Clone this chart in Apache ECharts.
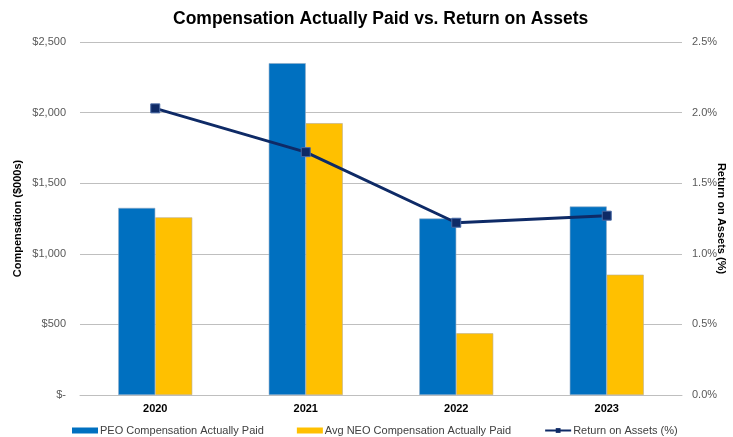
<!DOCTYPE html>
<html>
<head>
<meta charset="utf-8">
<script src="https://cdn.jsdelivr.net/npm/echarts@6/dist/echarts.min.js"></script>
<style>
  html, body { margin: 0; padding: 0; background: #fff; }
  #chart { width: 733px; height: 437px; }
</style>
</head>
<body>
<div id="chart"></div>
<script>
// values
const years = ['2020', '2021', '2022', '2023']
const peoPaid = [1325, 2350, 1250, 1335]      // $000s
const neoPaid = [1258, 1925, 437, 852]        // $000s
const roa = [2.03, 1.72, 1.22, 1.27]          // %
const leftTicks = ['$-', '$500', '$1,000', '$1,500', '$2,000', '$2,500']
const rightTicks = ['0.0%', '0.5%', '1.0%', '1.5%', '2.0%', '2.5%']

const font = 'Liberation Sans, Arial, sans-serif'

const myChart = echarts.init(document.getElementById('chart'))
myChart.setOption({
  animation: false,
  textStyle: { fontFamily: font },
  title: {
    text: 'Compensation Actually Paid vs. Return on Assets',
    left: 168,
    top: 5,
    textStyle: { fontSize: 17.5, fontWeight: 'bold', color: '#000', fontFamily: font }
  },
  grid: {
    left: 80,
    right: 51,
    top: 42,
    bottom: 42,
    outerBoundsMode: 'none'
  },
  legend: {
    left: 67,
    top: 420,
    itemWidth: 26,
    itemHeight: 6,
    itemGap: 33,
    itemStyle: { borderWidth: 0 },
    textStyle: { fontSize: 11, color: '#404040', padding: [0, 0, 0, -3] },
    data: [
      { name: 'PEO Compensation Actually Paid', icon: 'rect' },
      { name: 'Avg NEO Compensation Actually Paid', icon: 'rect' },
      { name: 'Return on Assets (%)' }
    ]
  },
  xAxis: {
    type: 'category',
    data: years,
    axisTick: { show: false },
    axisLine: { lineStyle: { color: '#bfbfbf', width: 1 } },
    axisLabel: { fontSize: 11, fontWeight: 'bold', color: '#000', margin: 8 }
  },
  yAxis: [
    {
      type: 'value',
      min: 0,
      max: 2500,
      interval: 500,
      name: 'Compensation ($000s)',
      nameLocation: 'middle',
      nameGap: 57,
      nameMoveOverlap: false,
      nameTextStyle: { fontSize: 11, fontWeight: 'bold', color: '#000' },
      axisLabel: {
        fontSize: 11,
        color: '#595959',
        margin: 14,
        formatter: v => leftTicks[Math.round(v / 500)]
      },
      axisLine: { show: false },
      axisTick: { show: false },
      splitLine: { lineStyle: { color: '#bfbfbf', width: 1 } }
    },
    {
      type: 'value',
      min: 0,
      max: 2.5,
      interval: 0.5,
      name: 'Return on Assets (%)',
      nameLocation: 'middle',
      nameRotate: -90,
      nameGap: 34,
      nameMoveOverlap: false,
      nameTextStyle: { fontSize: 11, fontWeight: 'bold', color: '#000' },
      axisLabel: {
        fontSize: 11,
        color: '#595959',
        margin: 10,
        formatter: v => rightTicks[Math.round(v / 0.5)]
      },
      axisLine: { show: false },
      axisTick: { show: false },
      splitLine: { show: false }
    }
  ],
  series: [
    {
      name: 'PEO Compensation Actually Paid',
      type: 'bar',
      data: peoPaid,
      barWidth: 37,
      barGap: '0%',
      itemStyle: { color: '#0070C0', borderColor: '#8fa9c4', borderWidth: 0.6 }
    },
    {
      name: 'Avg NEO Compensation Actually Paid',
      type: 'bar',
      data: neoPaid,
      barWidth: 37,
      barGap: '0%',
      itemStyle: { color: '#FFC000', borderColor: '#b8ad90', borderWidth: 0.6 }
    },
    {
      name: 'Return on Assets (%)',
      type: 'line',
      yAxisIndex: 1,
      data: roa,
      symbol: 'rect',
      symbolSize: 9,
      lineStyle: { color: '#0E2A66', width: 3 },
      itemStyle: { color: '#0E2A66', borderColor: '#4a6aa5', borderWidth: 1 }
    }
  ]
})
</script>
</body>
</html>
